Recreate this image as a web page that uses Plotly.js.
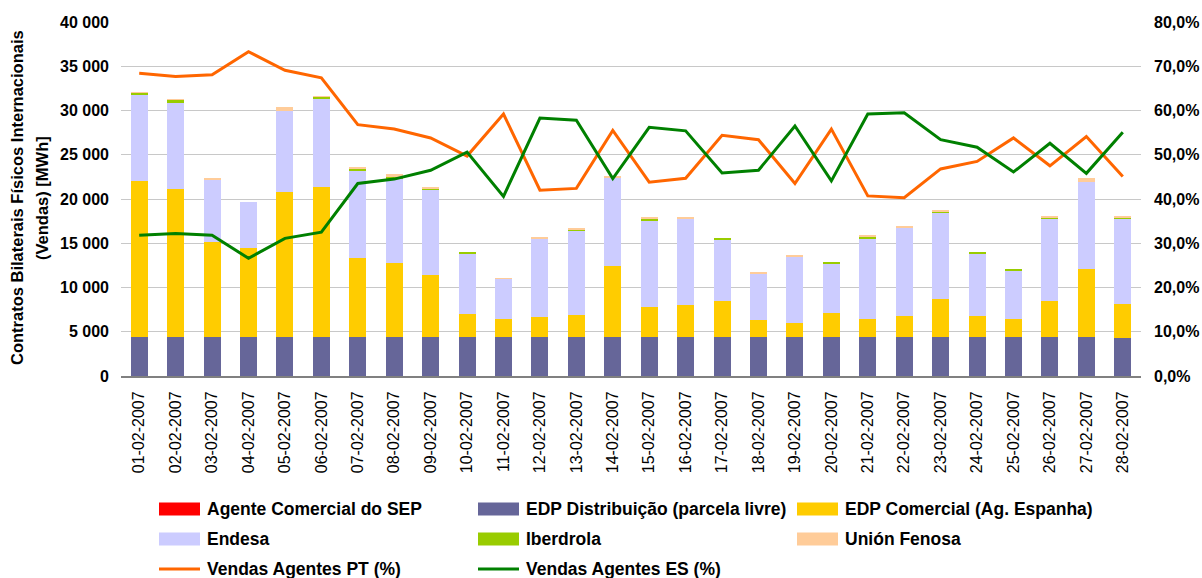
<!DOCTYPE html>
<html>
<head>
<meta charset="utf-8">
<script src="https://cdn.plot.ly/plotly-3.0.1.min.js"></script>
<style>html,body{margin:0;padding:0;background:#fff;}#chart{width:1202px;height:578px;}</style>
</head>
<body>
<div id="chart"></div>
<script>
const dates = ["01-02-2007","02-02-2007","03-02-2007","04-02-2007","05-02-2007","06-02-2007","07-02-2007","08-02-2007","09-02-2007","10-02-2007","11-02-2007","12-02-2007","13-02-2007","14-02-2007","15-02-2007","16-02-2007","17-02-2007","18-02-2007","19-02-2007","20-02-2007","21-02-2007","22-02-2007","23-02-2007","24-02-2007","25-02-2007","26-02-2007","27-02-2007","28-02-2007"];
const agenteSEP = [0,0,0,0,0,0,0,0,0,0,0,0,0,0,0,0,0,0,0,0,0,0,0,0,0,0,0,0];
const edpDistribuicao = [4380,4380,4380,4380,4380,4380,4380,4380,4380,4380,4380,4380,4380,4380,4380,4380,4380,4380,4380,4380,4380,4380,4380,4380,4380,4380,4380,4270];
const edpComercial = [17660,16755,10790,10110,16450,16980,8980,8380,7020,2640,2040,2265,2490,8080,3400,3620,4080,1960,1585,2720,2040,2415,4300,2415,2040,4080,7700,3890];
const endesa = [9740,9736,7020,5170,9130,9886,9810,9510,9660,6755,4490,8870,9510,9960,9735,9736,6905,5170,7470,5585,9057,9963,9736,6982,5434,9283,9887,9585];
const iberdrola = [150,264,0,0,0,227,264,264,113,226,0,0,151,0,227,0,227,0,0,189,226,0,151,226,226,151,0,151];
const unionFenosa = [190,189,188,0,453,188,226,300,189,0,188,227,227,227,226,226,0,227,226,0,227,188,189,0,0,188,378,188];
const vendasPT = [68.4,67.7,68.1,73.3,69.1,67.4,56.8,55.8,53.8,49.7,59.2,42.0,42.4,55.5,43.8,44.7,54.4,53.4,43.5,55.8,40.7,40.3,46.8,48.5,53.8,47.5,54.1,45.1];
const vendasES = [31.8,32.2,31.8,26.6,31.1,32.5,43.5,44.5,46.5,50.6,40.6,58.3,57.8,44.6,56.2,55.4,45.9,46.5,56.5,44.1,59.2,59.5,53.4,51.7,46.1,52.6,45.8,55.1];

const yTitleLines = ["Contratos Bilaterais Físicos Internacionais", "(Vendas) [MWh]"];

const FONT = "Liberation Sans, Arial, sans-serif";
const series = [
  {name:"Agente Comercial do SEP", y:agenteSEP, color:"#FF0000", kind:"bar"},
  {name:"EDP Distribuição (parcela livre)", y:edpDistribuicao, color:"#666699", kind:"bar"},
  {name:"EDP Comercial (Ag. Espanha)", y:edpComercial, color:"#FFCC00", kind:"bar"},
  {name:"Endesa", y:endesa, color:"#CCCCFF", kind:"bar"},
  {name:"Iberdrola", y:iberdrola, color:"#99CC00", kind:"bar"},
  {name:"Unión Fenosa", y:unionFenosa, color:"#FFCC99", kind:"bar"},
  {name:"Vendas Agentes PT (%)", y:vendasPT, color:"#FF6600", kind:"line"},
  {name:"Vendas Agentes ES (%)", y:vendasES, color:"#008000", kind:"line"}
];

const traces = series.map(s => s.kind === "bar" ? {
  type:"bar", x:dates, y:s.y, name:s.name, marker:{color:s.color, line:{width:0}}, showlegend:false, yaxis:"y"
} : {
  type:"scatter", mode:"lines", x:dates, y:s.y, name:s.name, line:{color:s.color, width:3}, showlegend:false, yaxis:"y2"
});

// custom legend (3 columns)
const L = 121, R = 1141, T = 22, B = 376;
const px = v => (v - L) / (R - L);
const py = v => (B - v) / (B - T);
const colX = [159, 478, 797];
const rowY = [509, 539, 569];
const shapes = [], annotations = [];
series.forEach((s, i) => {
  const c = i % 3, r = Math.floor(i / 3);
  const x0 = colX[c], yc = rowY[r];
  if (s.kind === "bar") {
    shapes.push({type:"rect", xref:"paper", yref:"paper", x0:px(x0), x1:px(x0+41), y0:py(yc+6.5), y1:py(yc-6.5), fillcolor:s.color, line:{width:0}});
  } else {
    shapes.push({type:"line", xref:"paper", yref:"paper", x0:px(x0), x1:px(x0+41), y0:py(yc), y1:py(yc), line:{color:s.color, width:3}});
  }
  annotations.push({xref:"paper", yref:"paper", x:px(x0+46), y:py(yc), xanchor:"left", yanchor:"middle", showarrow:false,
    text:"<b>"+s.name+"</b>", font:{family:FONT, size:17.5, color:"#000"}});
});
const titleX = [17, 42];
yTitleLines.forEach((t, i) => {
  annotations.push({xref:"paper", yref:"paper", x:px(titleX[i]), y:py(198), xanchor:"center", yanchor:"middle", showarrow:false,
    textangle:-90, text:"<b>"+t+"</b>", font:{family:FONT, size:16.5, color:"#000"}});
});

const layout = {
  width:1202, height:578,
  margin:{l:L, r:1202-R, t:T, b:578-B, pad:0},
  paper_bgcolor:"#fff", plot_bgcolor:"#fff",
  separators:", ",
  barmode:"stack", bargap:0.53,
  font:{family:FONT, color:"#000"},
  showlegend:false,
  xaxis:{type:"category", tickangle:-90, tickfont:{family:FONT, size:16, color:"#000"},
    showline:true, linecolor:"#808080", linewidth:2, showgrid:false, ticks:"", ticklabelstandoff:7},
  yaxis:{range:[0,40000], dtick:5000, tickformat:",d", showgrid:true, gridcolor:"#C8C8C8", gridwidth:1,
    zeroline:false, showline:false, ticks:"", ticklabelstandoff:11,
    tickfont:{family:FONT, size:16, color:"#000", weight:"bold"}},
  yaxis2:{range:[0,80], dtick:10, tickformat:".1f", ticksuffix:"%", overlaying:"y", side:"right",
    showgrid:false, zeroline:false, showline:false, ticks:"", ticklabelstandoff:12,
    tickfont:{family:FONT, size:16, color:"#000", weight:"bold"}},
  shapes:shapes, annotations:annotations
};

Plotly.newPlot("chart", traces, layout, {staticPlot:true, displayModeBar:false});
</script>
</body>
</html>
